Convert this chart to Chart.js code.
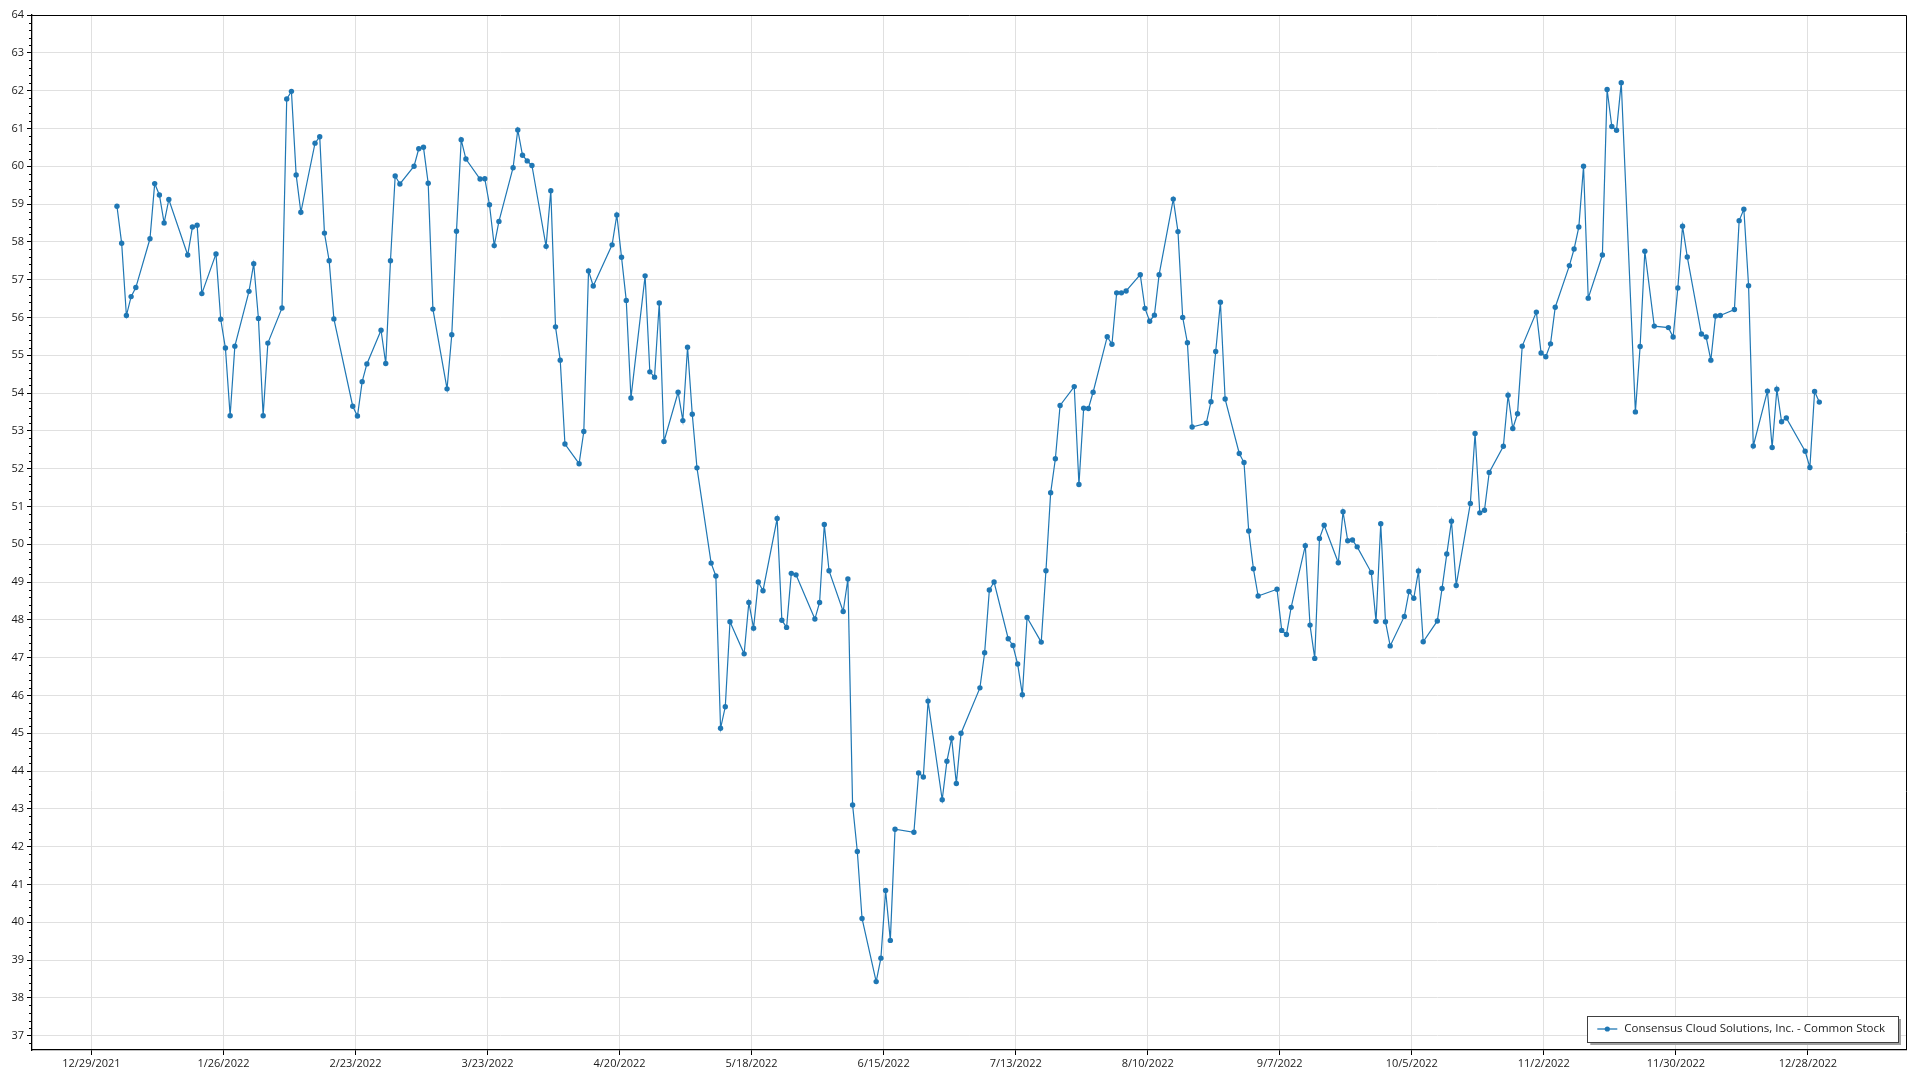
<!DOCTYPE html>
<html>
<head>
<meta charset="utf-8">
<script src="https://cdn.jsdelivr.net/npm/chart.js@4"></script>
<style>
  html, body { margin: 0; padding: 0; background: #fff; }
  canvas { display: block; }
</style>
</head>
<body>
<canvas id="price-chart" width="1920" height="1080"></canvas>
<script>
// ---- data ----
const seriesName = "Consensus Cloud Solutions, Inc. - Common Stock";
const tickStart = "2021-12-29";   // first x tick, then every 28 days
const tickCount = 14;
const quoteHour = 10;             // samples sit a little after midnight of their day
const yMin = 36.62;
const yMax = 64;

const dates = [
  "2022-01-03","2022-01-04","2022-01-05","2022-01-06","2022-01-07","2022-01-10","2022-01-11","2022-01-12","2022-01-13","2022-01-14",
  "2022-01-18","2022-01-19","2022-01-20","2022-01-21","2022-01-24","2022-01-25","2022-01-26","2022-01-27","2022-01-28","2022-01-31",
  "2022-02-01","2022-02-02","2022-02-03","2022-02-04","2022-02-07","2022-02-08","2022-02-09","2022-02-10","2022-02-11","2022-02-14",
  "2022-02-15","2022-02-16","2022-02-17","2022-02-18","2022-02-22","2022-02-23","2022-02-24","2022-02-25","2022-02-28",
  "2022-03-01","2022-03-02","2022-03-03","2022-03-04","2022-03-07","2022-03-08","2022-03-09","2022-03-10","2022-03-11","2022-03-14",
  "2022-03-15","2022-03-16","2022-03-17","2022-03-18","2022-03-21","2022-03-22","2022-03-23","2022-03-24","2022-03-25","2022-03-28",
  "2022-03-29","2022-03-30","2022-03-31",
  "2022-04-01","2022-04-04","2022-04-05","2022-04-06","2022-04-07","2022-04-08","2022-04-11","2022-04-12","2022-04-13","2022-04-14",
  "2022-04-18","2022-04-19","2022-04-20","2022-04-21","2022-04-22","2022-04-25","2022-04-26","2022-04-27","2022-04-28","2022-04-29",
  "2022-05-02","2022-05-03","2022-05-04","2022-05-05","2022-05-06","2022-05-09","2022-05-10","2022-05-11","2022-05-12","2022-05-13",
  "2022-05-16","2022-05-17","2022-05-18","2022-05-19","2022-05-20","2022-05-23","2022-05-24","2022-05-25","2022-05-26","2022-05-27",
  "2022-05-31",
  "2022-06-01","2022-06-02","2022-06-03","2022-06-06","2022-06-07","2022-06-08","2022-06-09","2022-06-10","2022-06-13","2022-06-14",
  "2022-06-15","2022-06-16","2022-06-17","2022-06-21","2022-06-22","2022-06-23","2022-06-24","2022-06-27","2022-06-28","2022-06-29",
  "2022-06-30",
  "2022-07-01","2022-07-05","2022-07-06","2022-07-07","2022-07-08","2022-07-11","2022-07-12","2022-07-13","2022-07-14","2022-07-15",
  "2022-07-18","2022-07-19","2022-07-20","2022-07-21","2022-07-22","2022-07-25","2022-07-26","2022-07-27","2022-07-28","2022-07-29",
  "2022-08-01","2022-08-02","2022-08-03","2022-08-04","2022-08-05","2022-08-08","2022-08-09","2022-08-10","2022-08-11","2022-08-12",
  "2022-08-15","2022-08-16","2022-08-17","2022-08-18","2022-08-19","2022-08-22","2022-08-23","2022-08-24","2022-08-25","2022-08-26",
  "2022-08-29","2022-08-30","2022-08-31",
  "2022-09-01","2022-09-02","2022-09-06","2022-09-07","2022-09-08","2022-09-09","2022-09-12","2022-09-13","2022-09-14","2022-09-15",
  "2022-09-16","2022-09-19","2022-09-20","2022-09-21","2022-09-22","2022-09-23","2022-09-26","2022-09-27","2022-09-28","2022-09-29",
  "2022-09-30",
  "2022-10-03","2022-10-04","2022-10-05","2022-10-06","2022-10-07","2022-10-10","2022-10-11","2022-10-12","2022-10-13","2022-10-14",
  "2022-10-17","2022-10-18","2022-10-19","2022-10-20","2022-10-21","2022-10-24","2022-10-25","2022-10-26","2022-10-27","2022-10-28",
  "2022-10-31",
  "2022-11-01","2022-11-02","2022-11-03","2022-11-04","2022-11-07","2022-11-08","2022-11-09","2022-11-10","2022-11-11","2022-11-14",
  "2022-11-15","2022-11-16","2022-11-17","2022-11-18","2022-11-21","2022-11-22","2022-11-23","2022-11-25","2022-11-28","2022-11-29",
  "2022-11-30",
  "2022-12-01","2022-12-02","2022-12-05","2022-12-06","2022-12-07","2022-12-08","2022-12-09","2022-12-12","2022-12-13","2022-12-14",
  "2022-12-15","2022-12-16","2022-12-19","2022-12-20","2022-12-21","2022-12-22","2022-12-23","2022-12-27","2022-12-28","2022-12-29",
  "2022-12-30"
];

const prices = [
  58.94, 57.96, 56.05, 56.55, 56.79, 58.08, 59.54, 59.24, 58.50, 59.12,
  57.65, 58.39, 58.44, 56.63, 57.68, 55.95, 55.19, 53.40, 55.24, 56.69,
  57.42, 55.97, 53.40, 55.32, 56.25, 61.78, 61.98, 59.77, 58.78, 60.61,
  60.78, 58.23, 57.50, 55.96, 53.65, 53.39, 54.30, 54.77, 55.66,
  54.78, 57.50, 59.74, 59.53, 60.00, 60.46, 60.50, 59.55, 56.22, 54.11,
  55.54, 58.28, 60.70, 60.19, 59.66, 59.67, 58.98, 57.90, 58.54, 59.96,
  60.96, 60.29, 60.14,
  60.02, 57.88, 59.35, 55.75, 54.87, 52.65, 52.13, 52.98, 57.23, 56.83,
  57.92, 58.71, 57.59, 56.45, 53.87, 57.10, 54.56, 54.42, 56.38, 52.72,
  54.02, 53.27, 55.21, 53.44, 52.02, 49.50, 49.16, 45.13, 45.70, 47.95,
  47.10, 48.46, 47.78, 49.00, 48.77, 50.68, 47.99, 47.80, 49.23, 49.19,
  48.02,
  48.46, 50.52, 49.30, 48.22, 49.08, 43.10, 41.87, 40.10, 38.43, 39.05,
  40.84, 39.52, 42.46, 42.38, 43.95, 43.84, 45.85, 43.24, 44.26, 44.87,
  43.67,
  45.00, 46.20, 47.13, 48.79, 49.00, 47.50, 47.32, 46.83, 46.02, 48.06,
  47.41, 49.30, 51.36, 52.26, 53.67, 54.17, 51.58, 53.60, 53.59, 54.02,
  55.49, 55.29, 56.65, 56.65, 56.70, 57.13, 56.24, 55.90, 56.06, 57.13,
  59.13, 58.27, 56.00, 55.33, 53.10, 53.20, 53.77, 55.10, 56.40, 53.84,
  52.40, 52.16, 50.35,
  49.35, 48.63, 48.81, 47.72, 47.61, 48.33, 49.96, 47.86, 46.98, 50.15,
  50.50, 49.51, 50.86, 50.09, 50.11, 49.93, 49.25, 47.96, 50.54, 47.95,
  47.31,
  48.09, 48.75, 48.57, 49.29, 47.42, 47.97, 48.83, 49.74, 50.61, 48.91,
  51.08, 52.93, 50.83, 50.90, 51.90, 52.59, 53.94, 53.06, 53.45, 55.24,
  56.14,
  55.06, 54.96, 55.30, 56.27, 57.37, 57.81, 58.39, 60.00, 56.51, 57.65,
  62.03, 61.05, 60.95, 62.21, 53.50, 55.23, 57.75, 55.77, 55.73, 55.48,
  56.78,
  58.41, 57.60, 55.56, 55.48, 54.87, 56.04, 56.05, 56.21, 58.56, 58.86,
  56.84, 52.60, 54.05, 52.56, 54.10, 53.24, 53.34, 52.46, 52.03, 54.04,
  53.76
];

/* ============================================= */
/*                  Helpers                      */
/* ============================================= */
const DAY = 86400000;
function toUTC(s) {
  const p = s.split("-").map(Number);
  return Date.UTC(p[0], p[1] - 1, p[2]);
}
const origin = toUTC(tickStart);
function dayOffset(s) {
  return (toUTC(s) - origin) / DAY + quoteHour / 24;
}
function dayLabel(v) {
  const d = new Date(origin + Math.round(v) * DAY);
  return (d.getUTCMonth() + 1) + "/" + d.getUTCDate() + "/" + d.getUTCFullYear();
}

const points = dates.map((d, i) => ({ x: dayOffset(d), y: prices[i] }));
const lineColor = "rgb(31,119,180)";
const FONT = "'Open Sans', 'Noto Sans', sans-serif";

/* ============================================= */
/*        Frame, minor ticks and legend          */
/* ============================================= */
const framePlugin = {
  id: "frame",
  afterDraw(chart) {
    const { ctx, chartArea: a, scales } = chart;
    ctx.save();
    // top and right edges of the plot frame
    ctx.strokeStyle = "#000";
    ctx.lineWidth = 1;
    ctx.beginPath();
    ctx.moveTo(a.left, a.top + 0.5);
    ctx.lineTo(a.right + 0.5, a.top + 0.5);
    ctx.lineTo(a.right + 0.5, a.bottom);
    ctx.stroke();

    // minor ticks on the value axis
    ctx.beginPath();
    const y = scales.y;
    for (let v = Math.ceil(yMin * 5) / 5; v <= yMax; v += 0.2) {
      const r = Math.round(v * 5) / 5;
      if (Math.abs(r - Math.round(r)) < 0.01) continue;
      const py = Math.round(y.getPixelForValue(r)) + 0.5;
      ctx.moveTo(a.left - 3, py);
      ctx.lineTo(a.left, py);
    }
    ctx.stroke();

    // legend box in the lower right corner
    ctx.font = "11.5px " + FONT;
    const textW = ctx.measureText(seriesName).width;
    const boxR = a.right - 8;
    const boxW = textW + 50;
    const boxL = boxR - boxW;
    const boxT = a.bottom - 34;
    const boxH = 26;
    ctx.fillStyle = "#a0a0a0";
    ctx.fillRect(boxL + 3, boxT + 3, boxW, boxH);
    ctx.fillStyle = "#fff";
    ctx.fillRect(boxL, boxT, boxW, boxH);
    ctx.strokeStyle = "#404040";
    ctx.strokeRect(Math.round(boxL) + 0.5, boxT + 0.5, Math.round(boxW), boxH);

    const cy = boxT + boxH / 2;
    ctx.strokeStyle = lineColor;
    ctx.lineWidth = 1.3;
    ctx.beginPath();
    ctx.moveTo(boxL + 10, cy);
    ctx.lineTo(boxL + 30, cy);
    ctx.stroke();
    ctx.fillStyle = lineColor;
    ctx.beginPath();
    ctx.arc(boxL + 20, cy, 2.6, 0, Math.PI * 2);
    ctx.fill();

    ctx.fillStyle = "#1a1a1a";
    ctx.textBaseline = "middle";
    ctx.textAlign = "left";
    ctx.fillText(seriesName, boxL + 37, cy);
    ctx.restore();
  }
};

/* ============================================= */
/*                  Chart                        */
/* ============================================= */
const priceChart = new Chart(document.querySelector("#price-chart"), {
  type: "line",
  data: {
    datasets: [
      {
        label: seriesName,
        data: points,
        borderColor: lineColor,
        backgroundColor: lineColor,
        borderWidth: 1.2,
        pointRadius: 2.7,
        pointBorderWidth: 0,
        pointBackgroundColor: lineColor,
        tension: 0,
        fill: false,
      },
    ],
  },
  options: {
    responsive: false,
    devicePixelRatio: 1,
    animation: false,
    layout: {
      padding: { top: 15, right: 14, left: 0, bottom: 0 },
    },
    plugins: {
      legend: { display: false },
      tooltip: { enabled: false },
    },
    scales: {
      x: {
        type: "linear",
        min: -12.6,
        max: 384.8,
        afterBuildTicks(scale) {
          const t = [];
          for (let i = 0; i < tickCount; i++) t.push({ value: i * 28 });
          scale.ticks = t;
        },
        afterFit(scale) {
          scale.height = 30;
        },
        grid: {
          color: "#e0e0e0",
          lineWidth: 1,
          tickLength: 5,
          tickColor: "#000",
        },
        border: { display: true, color: "#000", width: 1.3 },
        ticks: {
          autoSkip: false,
          maxRotation: 0,
          padding: 2,
          color: "#1a1a1a",
          font: { family: FONT, size: 11 },
          callback: (v) => dayLabel(v),
        },
      },
      y: {
        min: yMin,
        max: yMax,
        afterBuildTicks(scale) {
          const t = [];
          for (let v = 37; v <= yMax; v++) t.push({ value: v });
          scale.ticks = t;
        },
        afterFit(scale) {
          scale.width = 32;
        },
        grid: {
          color: "#e0e0e0",
          lineWidth: 1,
          tickLength: 5,
          tickColor: "#000",
        },
        border: { display: true, color: "#000", width: 1.3 },
        ticks: {
          autoSkip: false,
          padding: 3,
          color: "#1a1a1a",
          font: { family: FONT, size: 11 },
        },
      },
    },
  },
  plugins: [framePlugin],
});
</script>
</body>
</html>
